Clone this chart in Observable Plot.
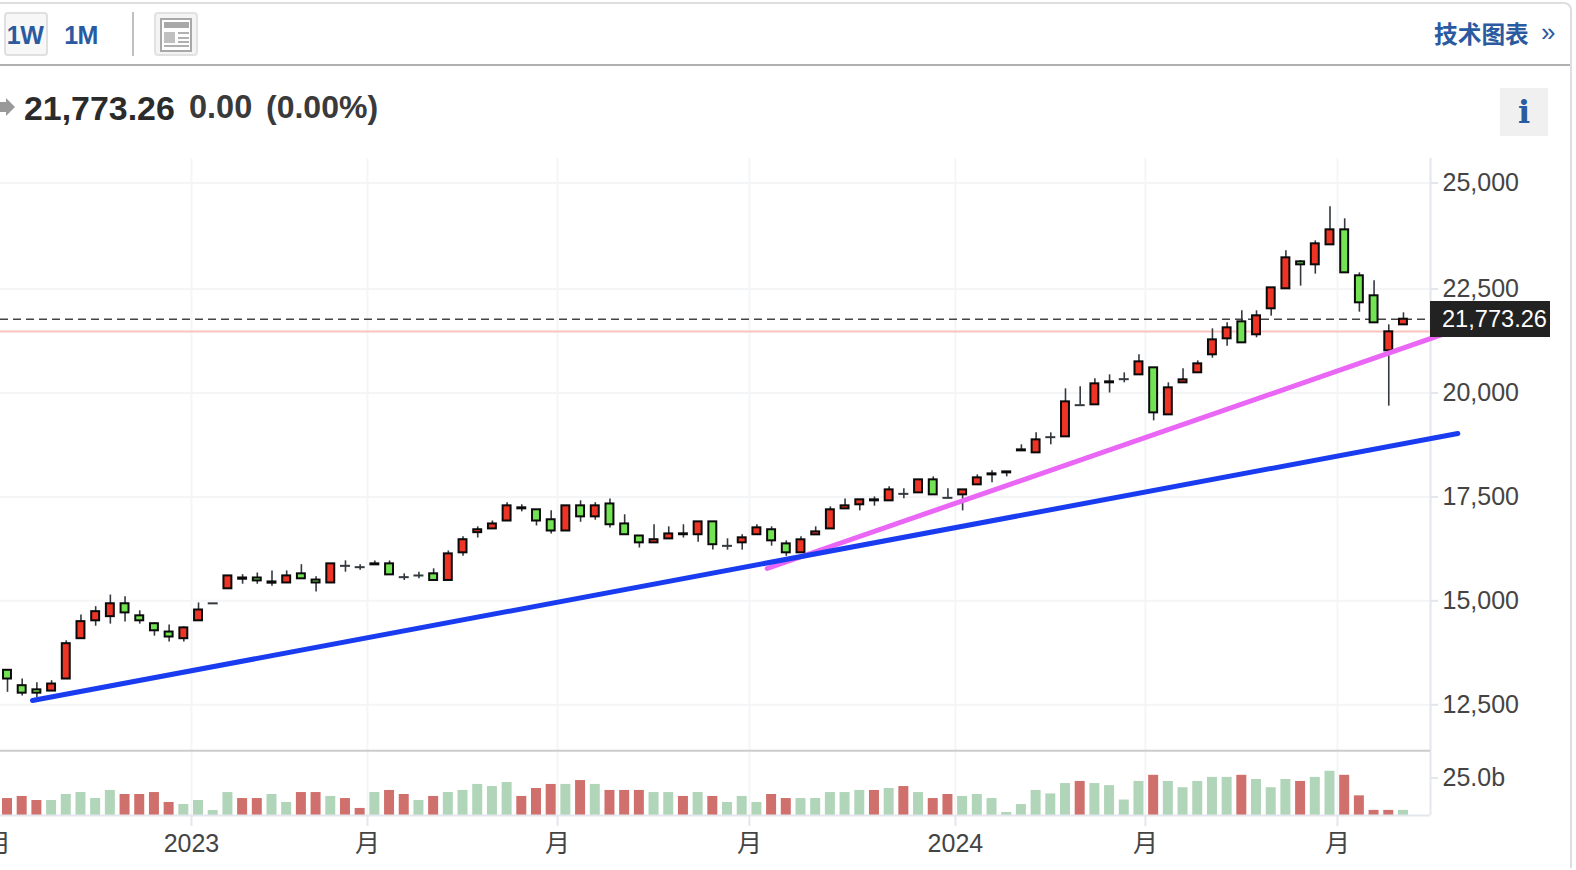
<!DOCTYPE html>
<html><head><meta charset="utf-8">
<script src="https://cdn.jsdelivr.net/npm/d3@7"></script>
<script src="https://cdn.jsdelivr.net/npm/@observablehq/plot@0.6"></script>
<style>
html,body{margin:0;padding:0;background:#fff;width:1576px;height:870px;overflow:hidden;font-family:"Liberation Sans",Arial,sans-serif}
.a{position:absolute}
svg{display:block;overflow:visible}
</style></head><body>
<div class="a" style="left:-20px;top:2px;width:1590px;height:864px;border-top:2px solid #dedede;border-right:2px solid #dedede;border-top-right-radius:8px;border-bottom:none"></div>
<div class="a" style="left:0;top:64px;width:1570px;height:2px;background:#b0b0b0"></div>
<div class="a" style="left:4px;top:12px;width:40px;height:40px;border:2px solid #e0e0e0;border-radius:4px;background:#f7f7f7"></div>
<div class="a" style="left:-1px;top:12px;width:52px;height:46px;line-height:46px;text-align:center;font-weight:bold;font-size:25px;color:#2a5a9f;letter-spacing:-.6px;font-family:'Liberation Sans'">1W</div>
<div class="a" style="left:55px;top:12px;width:52px;height:46px;line-height:46px;text-align:center;font-weight:bold;font-size:25px;color:#2a5a9f;letter-spacing:-.6px;font-family:'Liberation Sans'">1M</div>
<div class="a" style="left:132px;top:12px;width:2px;height:44px;background:#c0c0c0"></div>
<div class="a" style="left:154px;top:12px;width:40px;height:40px;border:2px solid #e2e2e2;border-radius:4px;background:#f4f4f4"></div>
<div class="a" style="left:160px;top:18px;width:28px;height:30px;border:2px solid #a8a8a8;background:#fff"></div>
<div class="a" style="left:164px;top:22px;width:25px;height:6px;background:#a8a8a8"></div>
<div class="a" style="left:164px;top:32px;width:11px;height:11px;background:#c0c0c0"></div>
<div class="a" style="left:178px;top:32px;width:11px;height:2px;background:#b0b0b0"></div>
<div class="a" style="left:178px;top:37px;width:11px;height:2px;background:#b0b0b0"></div>
<div class="a" style="left:178px;top:41px;width:11px;height:2px;background:#b0b0b0"></div>
<div class="a" style="left:164px;top:45px;width:25px;height:2px;background:#b0b0b0"></div>
<div class="a" style="left:1434px;top:14px;font-family:'Noto Sans CJK SC';font-weight:700;font-size:23.7px;line-height:38px;color:#2a5a9f;white-space:nowrap">技术图表</div>
<div class="a" style="left:1541px;top:13px;font-family:'Liberation Sans';font-size:26px;line-height:38px;color:#2a5a9f">»</div>
<div class="a" style="left:6px;top:98px;width:0;height:0;border-top:9px solid transparent;border-bottom:9px solid transparent;border-left:9px solid #999"></div>
<div class="a" style="left:0;top:102px;width:7px;height:10px;background:#999"></div>
<div class="a" style="left:24px;top:88px;font-weight:bold;font-size:33.9px;line-height:40px;color:#2b2b2b;white-space:nowrap">21,773.26</div>
<div class="a" style="left:189px;top:88px;font-weight:bold;font-size:32.5px;line-height:38px;color:#3a3a3a;white-space:nowrap">0.00</div>
<div class="a" style="left:266px;top:88px;font-weight:bold;font-size:32px;line-height:38px;color:#3a3a3a;white-space:nowrap">(0.00%)</div>
<div class="a" style="left:1500px;top:88px;width:48px;height:48px;background:#f0f0f0;text-align:center;font-family:'DejaVu Serif';font-weight:bold;font-size:32px;line-height:48px;color:#2a5a9f">i</div>
<div id="main" class="a" style="left:0;top:0"></div>
<div id="vol" class="a" style="left:0;top:752px"></div>
<div class="a" style="left:1430px;top:301px;width:120px;height:36px;background:#222;color:#fff;font-size:23.6px;line-height:37px;text-indent:12px;white-space:nowrap">21,773.26</div>
<script>
const opens  = [13330,12960,12860,12830,13120,14090,14520,14620,14930,14640,14450,14250,14090,14520,14940,15290,15520,15550,15425,15430,15650,15500,15430,15842,15810,15866,15890,15570,15610,15650,15490,16155,16640,16730,16920,17213,17190,16950,16680,17285,17020,17330,16850,16560,16395,16490,16590,16590,16900,16323,16395,16590,16710,16370,16155,16587,16730,17212,17310,17405,17405,17573,17597,17910,17477,17549,17790,18030,18078,18607,18559,18936,18944,19706,19714,20243,20331,20435,20604,19473,20243,20484,20917,21301,21710,21398,22023,22504,23140,23070,23541,23895,22811,22336,21013,21638];
const highs  = [13330,13120,13030,13080,14040,14660,14860,15140,15100,14760,14470,14420,14380,14950,14940,15600,15630,15670,15720,15720,15870,15580,15890,15962,15866,15960,15960,15650,15690,15770,16200,16540,16780,16920,17360,17310,17190,17165,17285,17405,17360,17450,17070,16560,16830,16780,16830,16900,16900,16492,16590,16830,16780,16443,16540,16780,17260,17450,17430,17500,17741,17693,17910,17982,17693,17669,18030,18126,18102,18752,19040,19040,20099,20147,20339,20435,20483,20916,20604,20243,20579,20772,21542,21686,21975,21975,22527,23400,23172,23635,24438,24155,22881,22692,21638,21927];
const lows   = [12800,12710,12670,12830,13120,14090,14390,14440,14490,14440,14150,14010,14010,14520,14940,15290,15400,15400,15350,15430,15530,15210,15430,15689,15737,15866,15625,15490,15530,15490,15490,16075,16510,16730,16920,17140,16800,16610,16680,16890,16940,16750,16590,16270,16395,16490,16510,16410,16220,16219,16220,16590,16315,16070,16155,16587,16730,17212,17165,17277,17405,17453,17597,17549,17477,17164,17790,17838,17982,18607,18559,18752,18944,19706,19714,19998,20243,20435,19329,19473,20243,20484,20836,21125,21205,21326,21847,22504,22567,22850,23541,22881,21943,21686,19682,21638];
const closes = [13120,12780,12780,13000,13970,14500,14740,14930,14710,14520,14280,14130,14350,14780,14940,15600,15550,15480,15455,15600,15530,15430,15890,15842,15810,15890,15625,15570,15610,15490,16130,16470,16710,16850,17285,17237,16920,16680,17285,17020,17285,16830,16590,16395,16470,16610,16612,16900,16350,16323,16516,16756,16443,16155,16468,16659,17190,17285,17430,17429,17669,17573,17910,17549,17477,17669,17958,18054,18102,18631,18872,18936,19786,19706,20219,20267,20331,20748,19521,20123,20315,20700,21277,21566,21205,21855,22527,23235,23070,23565,23895,22881,22167,21686,21470,21773];
const volumes = [11.3,12.7,10.0,10.0,14.0,15.3,11.3,16.7,14.0,14.0,15.3,8.7,7.3,10.0,3.3,15.3,11.3,11.3,14.0,8.7,15.3,15.3,12.7,11.3,4.7,15.3,16.7,14.0,10.0,12.7,15.3,16.7,20.7,19.3,22.0,12.7,18.0,20.7,20.7,23.3,20.7,16.7,16.7,16.7,15.3,15.3,12.7,15.3,12.7,8.7,12.7,8.7,14.0,11.3,11.3,11.3,15.3,15.3,16.7,16.7,18.0,19.3,15.3,11.3,14.0,12.7,14.0,11.3,2.0,7.3,16.7,14.4,21.3,22.7,21.3,19.9,10.3,22.7,26.8,22.7,18.5,22.7,25.4,25.4,26.8,24.0,18.5,24.0,22.7,25.4,29.5,26.8,13.1,3.4,3.4,3.4];
const volumeRed = "RRRGGGGGRRRRGGGGRRGGRRGRRGRRGRGGGGGRRRGRGRRRGGRGRGGGRRGGGGGRGRGRRGGGGGGGGRGGGGRGGGGGRGGGRGGRRRRG";
const xTickPos = [-0.61,12.52,24.5,37.43,50.49,64.51,77.44,90.51];
const xTickLabels = ["月","2023","月","月","月","2024","月","月"];
const priceTicks = [12500,15000,17500,20000,22500,25000];
const lastPrice = 21773.26;
const supportLevel = 21478;
const blueTrend = [[1.7,12603],[98.7,19025]];
const magentaTrend = [[51.7,15778],[97.86,21430]];

const candles = opens.map((o,i)=>({i,o,h:highs[i],l:lows[i],c:closes[i]}));
const bodies = candles.filter(d=>d.o!==d.c);
const dojis = candles.filter(d=>d.o===d.c);
const vols = volumes.map((v,i)=>({i,v,up:volumeRed[i]==="R"}));
const xDomain = [-0.476,96.84];
const FF = "Liberation Sans";
const gridC = "#f4f5f7", axisC = "#e3e6ec";

const main = Plot.plot({
  width:1576,height:752,marginLeft:0,marginRight:146,marginTop:158,marginBottom:0,
  style:{background:"transparent",overflow:"visible"},
  x:{domain:xDomain,axis:null},
  y:{domain:[11353,25638],transform:v=>v>22500?22500+(v-22500)*1.0197:v,axis:null},
  marks:[
    Plot.ruleY(priceTicks,{stroke:gridC,strokeWidth:2}),
    Plot.ruleX(xTickPos,{stroke:gridC,strokeWidth:2}),
    Plot.ruleY([supportLevel],{stroke:"#fbc3bd",strokeWidth:2}),
    Plot.ruleY([lastPrice],{stroke:"#444",strokeWidth:1.6,strokeDasharray:"8,5"}),
    Plot.ruleX([xDomain[1]],{stroke:axisC,strokeWidth:2}),
    Plot.ruleY([11393],{stroke:"#cccccc",strokeWidth:2}),
    Plot.ruleX(candles,{x:"i",y1:"l",y2:"h",stroke:"#33393f",strokeWidth:1.6}),
    Plot.ruleY(dojis,{y:"o",x1:d=>d.i-0.34,x2:d=>d.i+0.34,stroke:"#33393f",strokeWidth:2}),
    Plot.rect(bodies,{x1:d=>d.i-0.27,x2:d=>d.i+0.27,y1:"o",y2:"c",fill:d=>d.c>d.o?"#ee3424":"#72e453",stroke:"#0a0a0a",strokeWidth:2}),
    Plot.line(magentaTrend,{x:d=>d[0],y:d=>d[1],stroke:"#ea66f5",strokeWidth:5}),
    Plot.line(blueTrend,{x:d=>d[0],y:d=>d[1],stroke:"#1a3cf0",strokeWidth:5}),
    Plot.axisY(priceTicks,{anchor:"right",tickSize:7,tickPadding:5,stroke:axisC,tickFormat:d3.format(","),fontSize:25,fontFamily:FF,fill:"#444",strokeWidth:2,label:null})
  ]
});
document.getElementById("main").append(main);

const vol = Plot.plot({
  width:1576,height:118,marginLeft:0,marginRight:146,marginTop:0,marginBottom:55,
  style:{background:"transparent",overflow:"visible"},
  x:{domain:xDomain,axis:null},
  y:{domain:[0,42],axis:null},
  marks:[
    Plot.ruleX(xTickPos,{stroke:gridC,strokeWidth:2}),
    Plot.ruleX([xDomain[1]],{stroke:axisC,strokeWidth:2}),
    Plot.rect(vols,{x1:d=>d.i-0.34,x2:d=>d.i+0.34,y1:0,y2:"v",fill:d=>d.up?"#d0706c":"#b0d5b9"}),
    Plot.ruleY([0],{stroke:axisC,strokeWidth:2}),
    Plot.axisY([25],{anchor:"right",tickSize:7,tickPadding:5,stroke:axisC,tickFormat:d=>d.toFixed(1)+"b",fontSize:25,fontFamily:FF,fill:"#444",strokeWidth:2,label:null}),
    Plot.axisX(xTickPos,{anchor:"bottom",tickSize:11,tickPadding:8,stroke:axisC,strokeWidth:2,label:null,
      tickFormat:d=>xTickLabels[xTickPos.indexOf(d)],fontSize:25,fontFamily:"Liberation Sans, Noto Sans CJK SC",fill:"#444"})
  ]
});
document.getElementById("vol").append(vol);
</script>
</body></html>
